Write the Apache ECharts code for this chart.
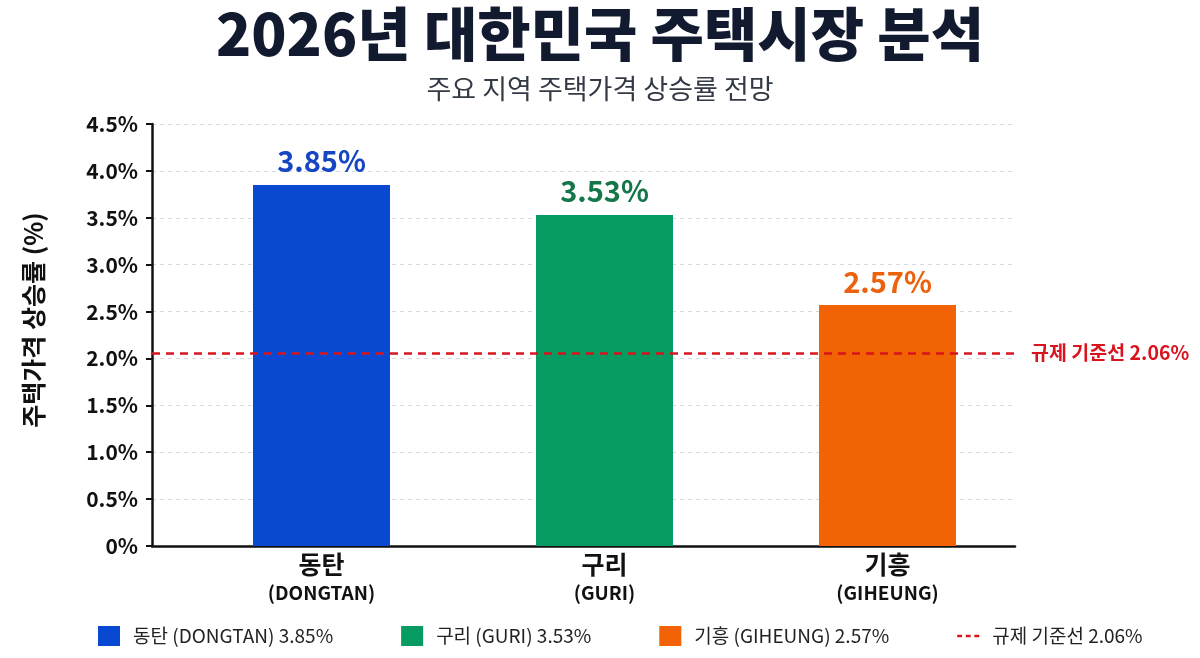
<!DOCTYPE html>
<html>
<head>
<meta charset="utf-8">
<script src="https://cdn.jsdelivr.net/npm/echarts@6/dist/echarts.min.js"></script>
<style>
  html, body { margin: 0; padding: 0; background: #fff; }
  #chart { width: 1200px; height: 658px; }
</style>
</head>
<body>
<div id="chart"></div>
<script>
const regions = ['동탄', '구리', '기흥']
const regionsEn = ['DONGTAN', 'GURI', 'GIHEUNG']
const growthRates = [3.85, 3.53, 2.57]
const barColors = ['#0948d0', '#069b61', '#f26306']
const labelColors = ['#1646c4', '#15764a', '#ec610b']
const thresholdValue = 2.06
const thresholdName = '규제 기준선 2.06%'
const yTicks = ['0%', '0.5%', '1.0%', '1.5%', '2.0%', '2.5%', '3.0%', '3.5%', '4.0%', '4.5%']

const FONT = '"Noto Sans CJK KR", "Noto Sans", sans-serif'

const chart = echarts.init(document.getElementById('chart'))

// one series per region so the legend gets one entry each
const barSeries = regions.map((name, i) => ({
  name: `${name} (${regionsEn[i]}) ${growthRates[i].toFixed(2)}%`,
  type: 'bar',
  xAxisIndex: 1,
  yAxisIndex: 1,
  barWidth: 137,
  barGap: '-100%',
  itemStyle: { color: barColors[i] },
  label: {
    show: true,
    position: 'top',
    distance: 9,
    formatter: p => p.value.toFixed(2) + '%',
    color: labelColors[i],
    fontFamily: FONT,
    fontWeight: 'bold',
    fontSize: 29
  },
  data: regions.map((_, j) => (j === i ? growthRates[i] : '-'))
}))

chart.setOption({
  backgroundColor: '#fff',
  title: {
    text: '2026년 대한민국 주택시장 분석',
    subtext: '주요 지역 주택가격 상승률 전망',
    left: 'center',
    top: 0,
    padding: [5, 0, 0, 22],
    itemGap: 12,
    textStyle: {
      fontFamily: FONT,
      fontWeight: 900,
      fontSize: 58,
      color: '#111a2e'
    },
    subtextStyle: {
      fontFamily: FONT,
      fontSize: 27,
      color: '#333a46'
    }
  },
  legend: {
    left: 93,
    top: 621,
    itemWidth: 22,
    itemHeight: 20,
    itemGap: 68,
    textStyle: {
      fontFamily: FONT,
      fontSize: 19,
      color: '#222',
      padding: [0, 0, 0, 8]
    },
    data: [
      ...barSeries.map(s => ({ name: s.name, icon: 'rect' })),
      {
        name: thresholdName,
        icon: 'path://M0,8h8v4h-8z M14,8h8v4h-8z M28,8h8v4h-8z'
      }
    ]
  },
  grid: [
    { left: 152, right: 185, top: 124, bottom: 112 },
    { left: 180, right: 171, top: 124, bottom: 112 }
  ],
  xAxis: [
    {
      gridIndex: 0,
      type: 'category',
      data: regions,
      axisLine: { lineStyle: { color: '#111', width: 2.5 } },
      axisTick: { show: false },
      axisLabel: { show: false }
    },
    {
      gridIndex: 1,
      type: 'category',
      data: regions,
      axisLine: { show: false },
      axisTick: { show: false },
      axisLabel: {
        margin: 2,
        formatter: (v, i) => `{ko|${v}}\n{en|(${regionsEn[i]})}`,
        rich: {
          ko: { fontFamily: FONT, fontWeight: 'bold', fontSize: 25, color: '#111', lineHeight: 32 },
          en: { fontFamily: FONT, fontWeight: 'bold', fontSize: 19, color: '#111', lineHeight: 26 }
        }
      }
    }
  ],
  yAxis: [
    {
      gridIndex: 0,
      type: 'value',
      min: 0,
      max: 4.5,
      interval: 0.5,
      name: '주택가격 상승률 (%)',
      nameLocation: 'middle',
      nameGap: 106,
      nameTextStyle: {
        fontFamily: FONT, fontWeight: 'bold', fontSize: 25, color: '#111',
        padding: [0, 0, 0, 30]
      },
      axisLine: { show: true, lineStyle: { color: '#111', width: 2.5 } },
      axisTick: { show: true, length: 6, lineStyle: { color: '#111', width: 2 } },
      axisLabel: {
        margin: 14,
        formatter: v => yTicks[Math.round(v * 2)],
        fontFamily: FONT,
        fontWeight: 'bold',
        fontSize: 21,
        color: '#111'
      },
      splitLine: { show: true, lineStyle: { color: '#d9d9d9', type: [4, 4], width: 1 } }
    },
    {
      gridIndex: 1,
      type: 'value',
      min: 0,
      max: 4.5,
      interval: 0.5,
      show: false,
      splitLine: { show: false }
    }
  ],
  series: [
    ...barSeries,
    {
      name: thresholdName,
      type: 'line',
      xAxisIndex: 0,
      yAxisIndex: 0,
      color: '#d9141e',
      lineStyle: { type: 'dashed', color: '#d9141e' },
      data: [],
      markLine: {
        silent: true,
        symbol: ['none', 'none'],
        lineStyle: { color: '#d9141e', type: [8, 6], width: 2.5 },
        label: {
          show: true,
          position: 'end',
          distance: 16,
          formatter: thresholdName,
          color: '#d9141e',
          fontFamily: FONT,
          fontWeight: 'bold',
          fontSize: 19.5
        },
        data: [{ yAxis: thresholdValue }]
      }
    }
  ]
})

window.addEventListener('resize', () => chart.resize())
</script>
</body>
</html>
